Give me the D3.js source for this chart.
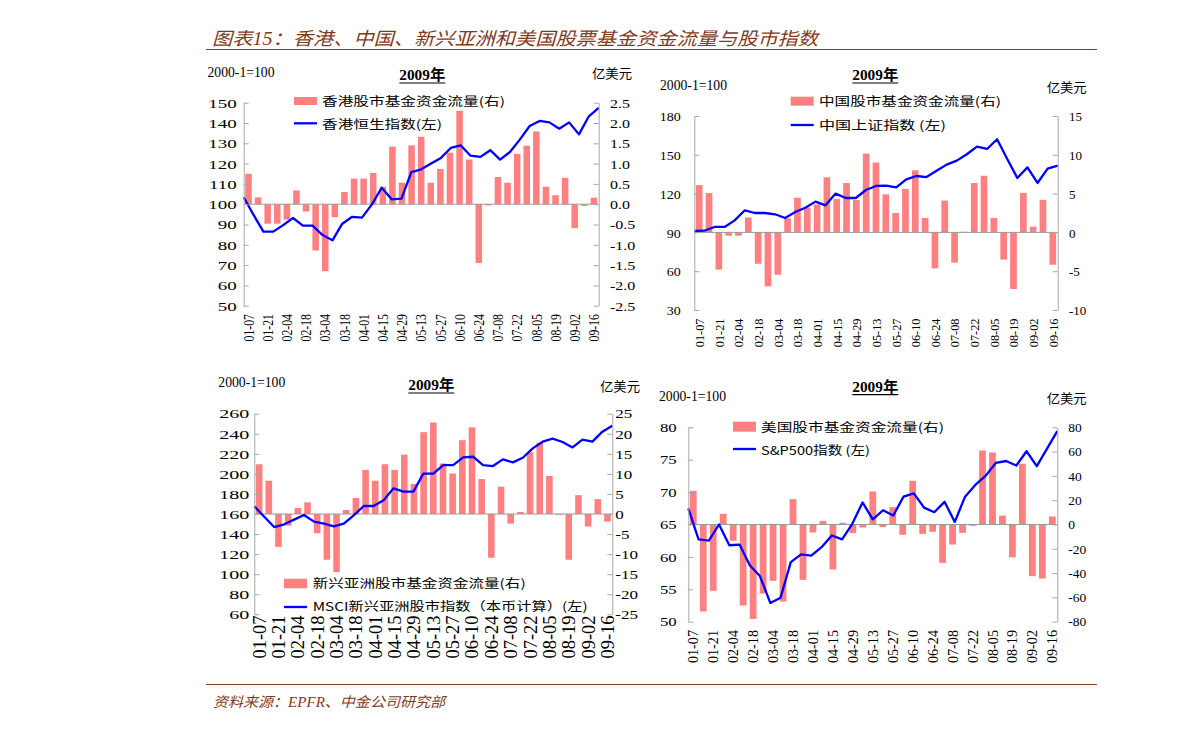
<!DOCTYPE html>
<html><head><meta charset="utf-8">
<script src="https://cdn.jsdelivr.net/npm/d3@7"></script>
<style>body{margin:0;background:#fff} svg{display:block}</style>
</head><body>
<svg id="chart" width="1191" height="731"></svg>
<script>
// ---------- data ----------
const weeks = ["01-07","01-14","01-21","01-28","02-04","02-11","02-18","02-25","03-04","03-11","03-18","03-25",
  "04-01","04-08","04-15","04-22","04-29","05-06","05-13","05-20","05-27","06-03","06-10","06-17","06-24","07-01",
  "07-08","07-15","07-22","07-29","08-05","08-12","08-19","08-26","09-02","09-09","09-16"];
const xTickLabels = ["01-07","01-21","02-04","02-18","03-04","03-18","04-01","04-15","04-29","05-13","05-27",
  "06-10","06-24","07-08","07-22","08-05","08-19","09-02","09-16"];

const hkFlow = [0.75,0.17,-0.48,-0.48,-0.38,0.34,-0.18,-1.14,-1.65,-0.32,0.30,0.63,0.63,0.77,0.43,1.42,0.53,1.45,
  1.66,0.53,0.87,1.27,2.30,1.10,-1.45,-0.03,0.67,0.53,1.24,1.44,1.79,0.43,0.22,0.65,-0.59,-0.04,0.16];
const hkIndex = [103.4,94.7,86.5,86.5,89.7,93.2,89.4,89.4,84.8,82.2,90.4,93.8,93.4,99.9,108.1,102.4,102.7,115.8,
  117.2,120.0,122.8,127.7,129.0,123.9,123.3,126.6,122.0,125.7,131.8,138.5,141.0,140.3,137.2,140.3,134.4,143.3,147.4];

const cnFlow = [6.1,5.07,-4.8,-0.43,-0.43,1.93,-4.04,-6.96,-5.46,1.8,4.47,3.2,3.6,7.1,4.3,6.36,4.17,10.15,9.0,4.9,
  2.5,5.6,8.0,1.85,-4.64,4.1,-3.9,0.08,6.36,7.3,1.85,-3.5,-7.3,5.1,0.73,4.2,-4.17];
const cnIndex = [91.1,91.3,94.2,94.2,99.3,107.1,105,105,104,101.1,105.8,109.1,113.8,110.9,120,116.6,116.6,122.8,
  125.9,126.1,124.8,131,133.6,132.8,137.7,142.4,145.5,150.4,156.3,154.5,162,146.8,132.1,140.3,128.2,139.3,141.6];

const asiaFlow = [12.4,8.3,-8.2,-2.9,1.5,2.9,-4.8,-11.4,-14.5,1.0,4.0,11.0,8.3,12.4,11.0,14.8,7.5,20.4,22.8,12.6,
  10.1,18.4,21.6,8.7,-10.9,6.8,-2.4,0.5,15.4,17.8,9.5,-0.2,-11.4,4.7,-3.1,3.7,-1.9];
const asiaIndex = [167.6,157.3,147,149.7,154.4,159,152.4,150.4,147.7,150.4,158.7,168,168,173.6,185.6,182.3,182.3,
  200.2,200.2,208.8,208.8,216.5,217.1,208.8,207.8,214.5,211.5,216.1,225.4,232.1,235.1,231.8,226.4,234.1,232.1,242.1,248];

const usFlow = [27.7,-71.6,-54.6,8.8,-13.4,-66.7,-77.7,-56.8,-46.4,-63.4,20.9,-45.6,-6.6,3.0,-37,1.4,-7.1,-2.5,
  27.2,-2.2,14.3,-8.5,36,-7.7,-6,-31.6,-16.5,-6.9,-1.1,60.9,59.3,7.4,-27,50,-42.5,-44.5,6.6];
const usIndex = [67.5,62.7,62.5,65.0,61.8,61.9,58.7,57.0,52.9,53.7,59.2,60.4,60.2,61.5,63.3,62.7,65.1,68.4,65.8,
  67.2,66.4,69.3,69.8,67.6,66.9,68.5,65.4,69.3,71.1,72.5,74.5,74.8,74.1,76.3,74.0,76.7,79.4];

const hkLeftTicks = [50,60,70,80,90,100,110,120,130,140,150];
const hkRightTicks = [-2.5,-2.0,-1.5,-1.0,-0.5,0,0.5,1.0,1.5,2.0,2.5];
const cnLeftTicks = [30,60,90,120,150,180];
const cnRightTicks = [-10,-5,0,5,10,15];
const asiaLeftTicks = [60,80,100,120,140,160,180,200,220,240,260];
const asiaRightTicks = [-25,-20,-15,-10,-5,0,5,10,15,20,25];
const usLeftTicks = [50,55,60,65,70,75,80];
const usRightTicks = [-80,-60,-40,-20,0,20,40,60,80];

const hkLegend = ["香港股市基金资金流量(右)","香港恒生指数(左)"];
const cnLegend = ["中国股市基金资金流量(右)","中国上证指数 (左)"];
const asiaLegend = ["新兴亚洲股市基金资金流量(右)","MSCI新兴亚洲股市指数（本币计算）(左)"];
const usLegend = ["美国股市基金资金流量(右)","S&P500指数 (左)"];

const titleText = "图表15：香港、中国、新兴亚洲和美国股票基金资金流量与股市指数";
const sourceText = "资料来源：EPFR、中金公司研究部";
const baseLabel = "2000-1=100";
const yearLabel = "2009年";
const unitLabel = "亿美元";

// ---------- drawing ----------
const svg = d3.select('#chart');
const SERIF = '"Liberation Serif","Times New Roman","Noto Sans CJK SC",serif';
const CJK = '"Noto Sans CJK SC","Liberation Serif",sans-serif';
const BROWN = '#7f3b1c';
const RULE = '#8b3a1a';
const AXIS = '#a8a8a8';
const BAR = '#ff8080';
const LINE = '#0000ff';

svg.append('rect').attr('width',1191).attr('height',731).attr('fill','#fff');

svg.append('text').attr('x',212).attr('y',44.5).attr('font-family',SERIF).attr('font-style','italic')
  .attr('font-size',18).attr('fill',BROWN).attr('textLength',606).attr('lengthAdjust','spacingAndGlyphs').text(titleText);
svg.append('line').attr('x1',206).attr('x2',1097).attr('y1',49.5).attr('y2',49.5).attr('stroke',RULE).attr('stroke-width',1.2);
svg.append('line').attr('x1',206).attr('x2',1097).attr('y1',684.5).attr('y2',684.5).attr('stroke',RULE).attr('stroke-width',1.2);
svg.append('text').attr('x',213).attr('y',707).attr('font-family',SERIF).attr('font-style','italic')
  .attr('font-size',14).attr('fill',BROWN).attr('textLength',232).attr('lengthAdjust','spacingAndGlyphs').text(sourceText);

const fmt1 = v => v.toFixed(1);
const fmt0 = v => String(v);

const panels = [
 {flow:hkFlow, index:hkIndex, x0:243.7, x1:598.7, y0:102.7, y1:305.7, left:[50,150], right:[-2.5,2.5],
  leftTicks:hkLeftTicks, rightTicks:hkRightTicks, leftFmt:fmt0, rightFmt:fmt1,
  fy:13, leftFx:19, rightFx:16, leftGap:7, rightGap:11.3, xTop:314, xLen:11.8, xTh:14.5,
  base:[207.5,77], year:[399.3,80], unit:[592,78],
  lg:{rx:294, ry:97, rh:8, ly:123.3, tx:322, t1:106, t2:129, w1:183, w2:120, labels:hkLegend}},
 {flow:cnFlow, index:cnIndex, x0:694.3, x1:1057.7, y0:116, y1:310, left:[30,180], right:[-10,15],
  leftTicks:cnLeftTicks, rightTicks:cnRightTicks, leftFmt:fmt0, rightFmt:fmt0,
  fy:13.5, leftFx:14, rightFx:13, leftGap:13.6, rightGap:11.3, xTop:318.5, xLen:12.3, xTh:13.5,
  base:[660,90], year:[852.3,80], unit:[1046.7,92],
  lg:{rx:790.7, ry:96.7, rh:9, ly:125, tx:819, t1:106, t2:130, w1:182, w2:127, labels:cnLegend}},
 {flow:asiaFlow, index:asiaIndex, x0:254.3, x1:612.3, y0:413.7, y1:614.3, left:[60,260], right:[-25,25],
  leftTicks:asiaLeftTicks, rightTicks:asiaRightTicks, leftFmt:fmt0, rightFmt:fmt0,
  fy:12.5, leftFx:20, rightFx:17, leftGap:5, rightGap:3, xTop:615.5, xLen:18.4, xTh:18,
  base:[218.3,386.7], year:[408.3,390], unit:[600,390.7],
  lg:{rx:284, ry:578.7, rh:9.6, ly:607, tx:312.7, t1:588, t2:611, w1:213, w2:275, labels:asiaLegend}},
 {flow:usFlow, index:usIndex, x0:688.3, x1:1057.3, y0:427.3, y1:621.7, left:[50,80], right:[-80,80],
  leftTicks:usLeftTicks, rightTicks:usRightTicks, leftFmt:fmt0, rightFmt:fmt0,
  fy:12.6, leftFx:16.7, rightFx:13.5, leftGap:11.6, rightGap:11, xTop:630, xLen:14.2, xTh:14,
  base:[659,401], year:[852.3,391.7], unit:[1046.7,403],
  lg:{rx:733, ry:421.7, rh:10, ly:449, tx:761, t1:432, t2:455, w1:183, w2:109, labels:usLegend}}
];

function drawPanel(p) {
  const g = svg.append('g');
  const xb = d3.scaleBand().domain(weeks).range([p.x0,p.x1]).paddingInner(0.32).paddingOuter(0.16);
  const xp = d3.scalePoint().domain(weeks).range([p.x0,p.x1]);
  const yL = d3.scaleLinear().domain(p.left).range([p.y1,p.y0]);
  const yR = d3.scaleLinear().domain(p.right).range([p.y1,p.y0]);

  g.append('g').selectAll('rect').data(p.flow).join('rect')
    .attr('x',(d,i)=>xb(weeks[i])).attr('width',xb.bandwidth())
    .attr('y',d=>Math.min(yR(0),yR(d))).attr('height',d=>Math.abs(yR(d)-yR(0)))
    .attr('fill',BAR);

  g.append('line').attr('x1',p.x0).attr('x2',p.x1).attr('y1',yR(0)).attr('y2',yR(0))
    .attr('stroke','#9a9a9a').attr('stroke-width',1);

  g.append('path').datum(p.index)
    .attr('d', d3.line().x((d,i)=>xp(weeks[i])).y(d=>yL(d)))
    .attr('fill','none').attr('stroke',LINE).attr('stroke-width',2.3).attr('stroke-linejoin','round');

  const la = g.append('g').attr('transform',`translate(${p.x0},0)`)
    .call(d3.axisLeft(yL).tickValues(p.leftTicks).tickSizeInner(-5).tickSizeOuter(0).tickFormat(p.leftFmt));
  la.attr('font-family',SERIF).attr('font-size',p.fy);
  la.selectAll('path,line').attr('stroke',AXIS);
  la.selectAll('.tick text').attr('x',0).attr('dy','0.34em').attr('fill','#000')
    .attr('transform',`translate(${-p.leftGap},0) scale(${p.leftFx/p.fy},1)`);

  const ra = g.append('g').attr('transform',`translate(${p.x1},0)`)
    .call(d3.axisRight(yR).tickValues(p.rightTicks).tickSizeInner(-5).tickSizeOuter(0).tickFormat(p.rightFmt));
  ra.attr('font-family',SERIF).attr('font-size',p.fy);
  ra.selectAll('path,line').attr('stroke',AXIS);
  ra.selectAll('.tick text').attr('x',0).attr('dy','0.34em').attr('fill','#000')
    .attr('transform',`translate(${p.rightGap},0) scale(${p.rightFx/p.fy},1)`);

  const xa = g.append('g').attr('transform',`translate(0,${p.y1})`)
    .call(d3.axisBottom(xb).tickValues(xTickLabels).tickSize(0));
  xa.select('.domain').remove();
  xa.attr('font-family',SERIF).attr('font-size',p.xLen);
  xa.selectAll('.tick text').attr('x',0).attr('y',0).attr('dy','0.36em').attr('text-anchor','end').attr('fill','#000')
    .attr('transform',`translate(0,${p.xTop-p.y1}) rotate(-90) scale(1,${p.xTh/p.xLen})`);

  g.append('text').attr('x',p.base[0]).attr('y',p.base[1]).attr('font-family',SERIF).attr('font-size',14)
    .attr('textLength',67).attr('lengthAdjust','spacingAndGlyphs').text(baseLabel);
  g.append('text').attr('x',p.year[0]).attr('y',p.year[1]).attr('font-family',SERIF).attr('font-size',15)
    .attr('font-weight','bold').attr('textLength',46).attr('lengthAdjust','spacingAndGlyphs').text(yearLabel);
  g.append('line').attr('x1',p.year[0]).attr('x2',p.year[0]+46).attr('y1',p.year[1]+3).attr('y2',p.year[1]+3)
    .attr('stroke','#000').attr('stroke-width',1.2);
  g.append('text').attr('x',p.unit[0]).attr('y',p.unit[1]).attr('font-family',CJK).attr('font-size',13)
    .attr('textLength',40).attr('lengthAdjust','spacingAndGlyphs').text(unitLabel);

  const L = p.lg;
  g.append('rect').attr('x',L.rx).attr('y',L.ry).attr('width',23).attr('height',L.rh).attr('fill',BAR);
  g.append('line').attr('x1',L.rx).attr('x2',L.rx+23).attr('y1',L.ly).attr('y2',L.ly).attr('stroke',LINE).attr('stroke-width',2.3);
  g.append('text').attr('x',L.tx).attr('y',L.t1).attr('font-family',CJK).attr('font-size',12)
    .attr('textLength',L.w1).attr('lengthAdjust','spacingAndGlyphs').text(L.labels[0]);
  g.append('text').attr('x',L.tx).attr('y',L.t2).attr('font-family',CJK).attr('font-size',12)
    .attr('textLength',L.w2).attr('lengthAdjust','spacingAndGlyphs').text(L.labels[1]);
}

panels.forEach(drawPanel);
</script>
</body></html>
